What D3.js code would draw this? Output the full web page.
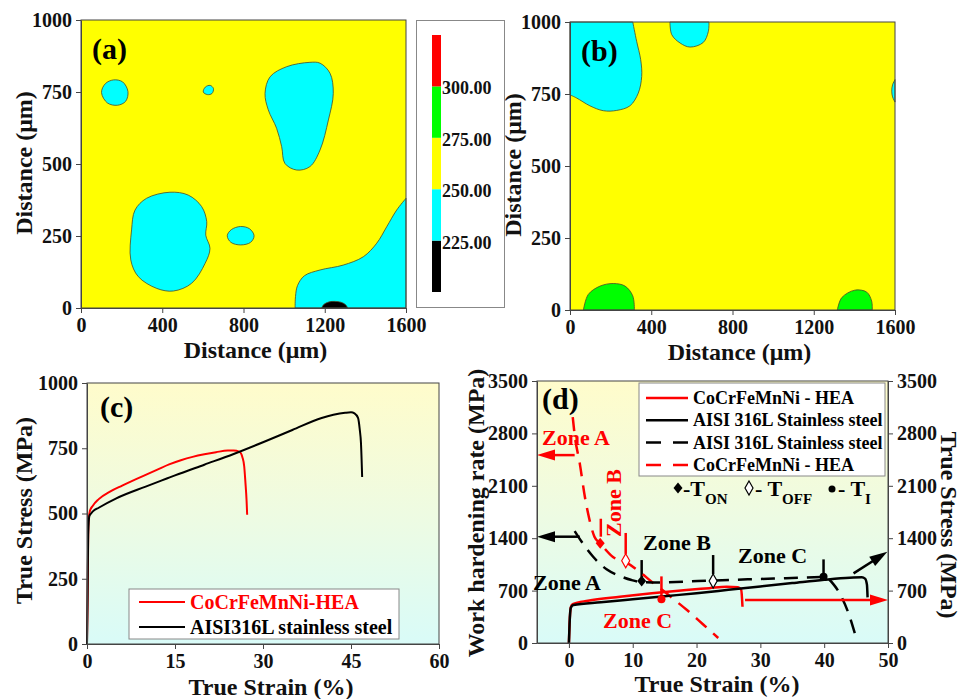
<!DOCTYPE html>
<meta charset="utf-8">
<style>
body { margin: 0; background: #fff; }
svg { display: block; font-family: "Liberation Serif", "Times New Roman", serif; font-weight: bold; }
.axis path, .axis line { stroke: #444; stroke-width: 1; }
.axis text { font-size: 20px; font-weight: bold; fill: #111; font-family: "Liberation Serif", serif; }
.title { font-size: 24px; fill: #111; }
</style>
<body>
<script src="https://cdnjs.cloudflare.com/ajax/libs/d3/7.8.5/d3.min.js"></script>
<script>

// ---- data ----
var mapXTicks = [0, 400, 800, 1200, 1600],
    mapYTicks = [0, 250, 500, 750, 1000],
    colorLevels = [225, 250, 275, 300],
    colorBands = [200, 225, 250, 275, 300, 325],
    bandColors = ["#000000", "#00ffff", "#ffff00", "#00ff00", "#ff0000"];

// contour boundaries in micrometres, panel (a)
var aCyanIslands = [
  [[101,748],[120,779],[160,792],[205,785],[231,752],[220,718],[180,704],[130,712]],
  [[602,750],[612,767],[636,773],[652,762],[645,745],[622,741]],
  [[1127,853],[1177,850],[1226,815],[1242,745],[1218,653],[1177,549],[1127,491],[1062,479],[1004,502],[988,560],[963,624],[922,688],[906,745],[931,803],[1013,838]],
  [[438,402],[528,392],[594,352],[619,300],[614,253],[635,207],[611,155],[545,86],[455,59],[373,68],[282,109],[245,167],[249,271],[266,340],[323,381]],
  [[720,251],[740,272],[786,283],[830,275],[852,251],[835,228],[786,219],[738,228]]
];
var aCyanEdge = [[1054,0],[1056,40],[1066,78],[1100,112],[1177,132],[1291,149],[1390,178],[1456,225],[1505,282],[1554,340],[1600,381]],
    aCyanCorners = [[1600,0]],
    aBlackEdge = [[1185,0],[1195,12],[1220,21],[1250,23],[1280,20],[1303,11],[1313,0]];

// contour boundaries, panel (b)
var bCyanEdges = [
  [[309,1000],[328,933],[348,869],[353,811],[336,753],[295,709],[230,693],[164,692],[98,709],[33,736],[0,747]],
  [[492,1000],[501,956],[542,927],[591,913],[656,929],[681,967],[684,1000]],
  [[1600,800],[1588,782],[1584,760],[1588,740],[1600,722]]
];
var bCyanCorners = [[[0,1000]], [], []];
var bGreenEdges = [
  [[66,0],[90,54],[148,83],[213,92],[271,83],[309,49],[317,0]],
  [[1316,0],[1338,43],[1403,69],[1461,62],[1485,31],[1488,0]]
];

// panel (c) true stress-strain
var cXTicks = [0, 15, 30, 45, 60],
    cYTicks = [0, 250, 500, 750, 1000];
var cHea = [[0,0],[0.1,150],[0.2,400],[0.3,480],[0.5,510],[1,530],[2,555],[4,585],[6,607],[8,628],[10,648],[12,668],[14,688],[16,704],[18,717],[20,727],[22,735],[24,741],[25,741],[26,736],[26.5,715],[26.8,680],[27,620],[27.2,550],[27.3,495]];
var cSteel = [[0,0],[0.1,200],[0.2,420],[0.4,490],[0.7,500],[1,508],[2,522],[5,558],[10,603],[13.6,634],[15,646],[20,687],[25,728],[30,773],[35,820],[40,866],[42,878],[44,886],[45,888],[45.6,884],[46.2,866],[46.5,820],[46.7,770],[46.9,640]];
var cNames = ["CoCrFeMnNi-HEA", "AISI316L stainless steel"];

// panel (d) work hardening rate + true stress
var dXTicks = [0, 10, 20, 30, 40, 50],
    dYTicks = [0, 700, 1400, 2100, 2800, 3500];
var dSteelStress = [[0,0],[0.1,250],[0.3,470],[0.7,507],[5,545],[10,585],[15,625],[20,665],[25,710],[30,755],[35,800],[40,845],[44,872],[45.9,877],[46.4,860],[46.7,780],[46.8,610]];
var dHeaStress = [[0,0],[0.1,250],[0.3,480],[0.6,520],[3,565],[8,618],[13,665],[18.4,708],[22,733],[24.7,752],[26.5,745],[27,710],[27.2,485]];
var dSteelWhr = [[0.9,1495],[2,1352],[3.8,1152],[5.9,984],[8,894],[9.8,841],[11.4,814],[14,808],[18,820],[22.6,835],[28,850],[34,866],[40,881],[41.5,780],[42.5,650],[43.8,400],[44.8,130]];
var dHeaWhr = [[0.6,3017],[0.9,2780],[1.7,2400],[2.5,1953],[3.0,1732],[4.0,1420],[4.9,1331],[6.9,1150],[8.9,1080],[11.1,950],[13,815],[14.6,710],[16.5,580],[18.5,440],[21,250],[23.4,67]];
var dNames = ["CoCrFeMnNi - HEA", "AISI 316L Stainless steel", "AISI 316L Stainless steel", "CoCrFeMnNi - HEA"];
// transition points: T_ON, T_OFF, T_I
var dSteelMarks = [[11.4,828],[22.6,828],[39.9,885]],
    dHeaMarks = [[4.9,1331],[8.9,1099],[14.5,583]];
// short vertical guides [strain, from, to]
var dSteelGuides = [[11.4,880,1108],[22.6,920,1175],[39.9,905,1117]],
    dHeaGuides = [[5.0,1420,1660],[8.9,1190,1470],[14.5,620,890]];
// arrows [x1,y1,x2,y2]
var dSteelArrows = [[1.7,1420,-5,1420],[44.6,930,49.9,1219]],
    dHeaArrows = [[0.9,2510,-5,2510],[27.6,574,50,574]];

// ---- drawing ----
var svg = d3.select("body").append("svg").attr("width", 968).attr("height", 699);
svg.append("rect").attr("width", 968).attr("height", 699).attr("fill", "#fff");

var defs = svg.append("defs");
var grad = defs.append("linearGradient").attr("id", "bg").attr("x1", 0).attr("y1", 0).attr("x2", 0).attr("y2", 1);
grad.append("stop").attr("offset", 0).attr("stop-color", "#fffccb");
grad.append("stop").attr("offset", 0.5).attr("stop-color", "#eefbe2");
grad.append("stop").attr("offset", 1).attr("stop-color", "#d9fbf8");

var fmt = d3.format("d");

// diamond with its own aspect: half-width w, half-height h
function diamond(w, h) {
  return d3.symbol().type({ draw: function(ctx) {
    ctx.moveTo(0, -h); ctx.lineTo(w, 0); ctx.lineTo(0, h); ctx.lineTo(-w, 0); ctx.closePath();
  } })();
}
var fullDia = diamond(4.5, 5.5), openDia = diamond(4, 7);

function regionPath(pts, corners, x, y, closed) {
  var p = pts.map(function(d) { return [x(d[0]), y(d[1])]; });
  if (closed) return d3.line().curve(d3.curveCatmullRomClosed)(p);
  var s = d3.line().curve(d3.curveCatmullRom)(p);
  (corners || []).forEach(function(c) { s += "L" + x(c[0]) + "," + y(c[1]); });
  return s + "Z";
}

function axes(g, x, y, xt, yt, h, w, rightAxis) {
  g.append("g").attr("class", "axis").attr("transform", "translate(0," + h + ")")
    .call(d3.axisBottom(x).tickValues(xt).tickFormat(fmt).tickSize(5).tickSizeOuter(0).tickPadding(5));
  g.append("g").attr("class", "axis")
    .call(d3.axisLeft(y).tickValues(yt).tickFormat(fmt).tickSize(5).tickSizeOuter(0).tickPadding(4));
  if (rightAxis) {
    g.append("g").attr("class", "axis").attr("transform", "translate(" + w + ",0)")
      .call(d3.axisRight(y).tickValues(yt).tickFormat(fmt).tickSize(5).tickSizeOuter(0).tickPadding(4));
  }
  g.append("rect").attr("width", w).attr("height", h).attr("fill", "none").attr("stroke", "#444");
}

function mapPanel(left, top, label, titleShift, drawRegions) {
  var w = 325, h = 288;
  var g = svg.append("g").attr("transform", "translate(" + left + "," + top + ")");
  var x = d3.scaleLinear().domain([0, 1600]).range([0, w]),
      y = d3.scaleLinear().domain([0, 1000]).range([h, 0]);
  g.append("rect").attr("width", w).attr("height", h).attr("fill", bandColors[2]);
  drawRegions(g, x, y);
  axes(g, x, y, mapXTicks, mapYTicks, h, w, false);
  g.append("text").attr("x", 11).attr("y", 39).attr("font-size", 30).text(label);
  g.append("text").attr("class", "title").attr("x", w / 2 + titleShift).attr("y", h + 50)
    .attr("text-anchor", "middle").text("Distance (μm)");
  g.append("text").attr("class", "title").attr("text-anchor", "middle")
    .attr("transform", "translate(-49," + (h / 2 - 1) + ")rotate(-90)").text("Distance (μm)");
}

function contour(g, d, color) {
  g.append("path").attr("d", d).attr("fill", color).attr("stroke", "#4a4a2a").attr("stroke-width", 0.8);
}

mapPanel(81, 20, "(a)", 12, function(g, x, y) {
  aCyanIslands.forEach(function(p) { contour(g, regionPath(p, null, x, y, true), bandColors[1]); });
  contour(g, regionPath(aCyanEdge, aCyanCorners, x, y, false), bandColors[1]);
  contour(g, regionPath(aBlackEdge, null, x, y, false), bandColors[0]);
});

mapPanel(570, 22, "(b)", 7, function(g, x, y) {
  bCyanEdges.forEach(function(p, i) { contour(g, regionPath(p, bCyanCorners[i], x, y, false), bandColors[1]); });
  bGreenEdges.forEach(function(p) { contour(g, regionPath(p, null, x, y, false), bandColors[3]); });
});

// colour bar
var cb = svg.append("g");
cb.append("rect").attr("x", 416.5).attr("y", 20.5).attr("width", 88).attr("height", 287)
  .attr("fill", "#fff").attr("stroke", "#888");
var cbY = d3.scaleLinear().domain([200, 325]).range([292, 35]);
cb.selectAll("rect.band").data(bandColors).join("rect").attr("class", "band")
  .attr("x", 432).attr("width", 9)
  .attr("y", function(d, i) { return cbY(colorBands[i + 1]); })
  .attr("height", function(d, i) { return cbY(colorBands[i]) - cbY(colorBands[i + 1]); })
  .attr("fill", function(d) { return d; });
cb.selectAll("text").data(colorLevels).join("text")
  .attr("x", 442).attr("y", function(d) { return cbY(d) + 8; })
  .attr("font-size", 18).attr("fill", "#111").text(function(d) { return d.toFixed(2); });

// panel (c)
(function() {
  var w = 352, h = 261;
  var g = svg.append("g").attr("transform", "translate(87,383)");
  var x = d3.scaleLinear().domain([0, 60]).range([0, w]),
      y = d3.scaleLinear().domain([0, 1000]).range([h, 0]);
  g.append("rect").attr("width", w).attr("height", h).attr("fill", "url(#bg)");
  var line = d3.line().curve(d3.curveMonotoneX).x(function(d) { return x(d[0]); }).y(function(d) { return y(d[1]); });
  g.append("path").attr("d", line(cHea)).attr("fill", "none").attr("stroke", "#ff0000").attr("stroke-width", 2);
  g.append("path").attr("d", line(cSteel)).attr("fill", "none").attr("stroke", "#000").attr("stroke-width", 2);
  axes(g, x, y, cXTicks, cYTicks, h, w, false);
  g.append("text").attr("x", 13).attr("y", 34).attr("font-size", 30).text("(c)");
  var lg = g.append("g").attr("transform", "translate(42,206)");
  lg.append("rect").attr("width", 270).attr("height", 50).attr("fill", "#fff").attr("stroke", "#888");
  cNames.forEach(function(n, i) {
    var yy = 13 + i * 25, col = i == 0 ? "#ff0000" : "#000";
    lg.append("line").attr("x1", 10).attr("x2", 56).attr("y1", yy).attr("y2", yy).attr("stroke", col).attr("stroke-width", 2);
    lg.append("text").attr("x", 61).attr("y", yy + 7).attr("font-size", 20).attr("fill", col).text(n);
  });
  g.append("text").attr("class", "title").attr("x", 184).attr("y", h + 51).attr("font-size", 23)
    .attr("text-anchor", "middle").text("True Strain (%)");
  g.append("text").attr("class", "title").attr("text-anchor", "middle").attr("font-size", 23)
    .attr("transform", "translate(-55," + (h / 2 - 3) + ")rotate(-90)").text("True Stress (MPa)");
})();

// panel (d)
(function() {
  var w = 351, h = 262;
  var g = svg.append("g").attr("transform", "translate(537,381)");
  var x = d3.scaleLinear().domain([-5, 50]).range([0, w]),
      y = d3.scaleLinear().domain([0, 3500]).range([h, 0]);
  g.append("rect").attr("width", w).attr("height", h).attr("fill", "url(#bg)");
  var line = d3.line().curve(d3.curveMonotoneX).x(function(d) { return x(d[0]); }).y(function(d) { return y(d[1]); });
  var dash = "14,9";

  // guides
  function guides(list, col) {
    g.selectAll(null).data(list).join("line")
      .attr("x1", function(d) { return x(d[0]); }).attr("x2", function(d) { return x(d[0]); })
      .attr("y1", function(d) { return y(d[1]); }).attr("y2", function(d) { return y(d[2]); })
      .attr("stroke", col).attr("stroke-width", 2.5);
  }
  guides(dHeaGuides, "#ff0000");
  guides(dSteelGuides, "#000");

  g.append("path").attr("d", line(dHeaWhr)).attr("fill", "none").attr("stroke", "#ff0000")
    .attr("stroke-width", 2.5).attr("stroke-dasharray", dash);
  g.append("path").attr("d", line(dSteelWhr)).attr("fill", "none").attr("stroke", "#000")
    .attr("stroke-width", 2.5).attr("stroke-dasharray", dash);
  g.append("path").attr("d", line(dHeaStress)).attr("fill", "none").attr("stroke", "#ff0000").attr("stroke-width", 2.5);
  g.append("path").attr("d", line(dSteelStress)).attr("fill", "none").attr("stroke", "#000").attr("stroke-width", 2.5);

  // arrows
  function arrows(list, col) {
    list.forEach(function(a) {
      var x1 = x(a[0]), y1 = y(a[1]), x2 = x(a[2]), y2 = y(a[3]);
      var ang = Math.atan2(y2 - y1, x2 - x1) * 180 / Math.PI;
      var len = Math.hypot(x2 - x1, y2 - y1);
      var ag = g.append("g").attr("transform", "translate(" + x1 + "," + y1 + ")rotate(" + ang + ")");
      ag.append("line").attr("x1", 0).attr("x2", len - 12).attr("stroke", col).attr("stroke-width", 2.5);
      ag.append("path").attr("d", "M" + len + ",0L" + (len - 18) + ",-5.5L" + (len - 18) + ",5.5Z").attr("fill", col);
    });
  }
  arrows(dHeaArrows, "#ff0000");
  arrows(dSteelArrows, "#000");

  // transition markers
  function marks(list, col) {
    g.append("path").attr("d", fullDia).attr("transform", "translate(" + x(list[0][0]) + "," + y(list[0][1]) + ")").attr("fill", col);
    g.append("path").attr("d", openDia).attr("transform", "translate(" + x(list[1][0]) + "," + y(list[1][1]) + ")")
      .attr("fill", "#fff").attr("stroke", col).attr("stroke-width", 1.2);
    g.append("circle").attr("cx", x(list[2][0])).attr("cy", y(list[2][1])).attr("r", 4).attr("fill", col);
  }
  marks(dHeaMarks, "#ff0000");
  marks(dSteelMarks, "#000");

  axes(g, x, y, dXTicks, dYTicks, h, w, true);

  // zone labels
  var zones = [
    ["Zone A", 5, 64, "#ff0000"], ["Zone B", 106, 169, "#000"], ["Zone C", 201, 182, "#000"],
    ["Zone A", -4, 209, "#000"], ["Zone C", 66, 247, "#ff0000"]
  ];
  zones.forEach(function(z) {
    g.append("text").attr("x", z[1]).attr("y", z[2]).attr("font-size", 22).attr("fill", z[3]).text(z[0]);
  });
  g.append("text").attr("font-size", 22).attr("fill", "#ff0000").attr("text-anchor", "middle")
    .attr("transform", "translate(84,122)rotate(-90)").text("Zone B");

  g.append("text").attr("x", 5).attr("y", 28).attr("font-size", 30).text("(d)");

  // legend
  var lg = g.append("g").attr("transform", "translate(102,2)");
  lg.append("rect").attr("width", 246).attr("height", 93).attr("fill", "#fff").attr("stroke", "#888");
  dNames.forEach(function(n, i) {
    var yy = 15 + i * 22.3, col = (i == 0 || i == 3) ? "#ff0000" : "#000";
    lg.append("line").attr("x1", 7).attr("x2", 49).attr("y1", yy).attr("y2", yy).attr("stroke", col)
      .attr("stroke-width", 2.5).attr("stroke-dasharray", i >= 2 ? "15,12" : null);
    lg.append("text").attr("x", 54).attr("y", yy + 6).attr("font-size", 18).attr("fill", "#000").text(n);
  });

  // marker key
  var key = g.append("g").attr("transform", "translate(0,107)");
  key.append("path").attr("d", fullDia).attr("transform", "translate(141,0)").attr("fill", "#000");
  key.append("text").attr("x", 146).attr("y", 8).attr("font-size", 22).text("-T")
    .append("tspan").attr("font-size", 15).attr("dy", 8).text("ON");
  key.append("path").attr("d", openDia).attr("transform", "translate(212,0)").attr("fill", "#fff").attr("stroke", "#000").attr("stroke-width", 1.2);
  key.append("text").attr("x", 218).attr("y", 8).attr("font-size", 22).text("- T")
    .append("tspan").attr("font-size", 15).attr("dy", 8).text("OFF");
  key.append("circle").attr("cx", 295).attr("cy", 1).attr("r", 3.5).attr("fill", "#000");
  key.append("text").attr("x", 301).attr("y", 8).attr("font-size", 22).text("- T")
    .append("tspan").attr("font-size", 15).attr("dy", 8).text("I");

  g.append("text").attr("class", "title").attr("x", 180).attr("y", h + 49).attr("font-size", 23)
    .attr("text-anchor", "middle").text("True Strain (%)");
  g.append("text").attr("class", "title").attr("text-anchor", "middle").attr("font-size", 24)
    .attr("transform", "translate(-53," + (h / 2 + 1) + ")rotate(-90)").text("Work hardening rate (MPa)");
  g.append("text").attr("class", "title").attr("text-anchor", "middle").attr("font-size", 23)
    .attr("transform", "translate(" + (w + 53) + "," + (h / 2 + 13) + ")rotate(90)").text("True Stress (MPa)");
})();

</script>
